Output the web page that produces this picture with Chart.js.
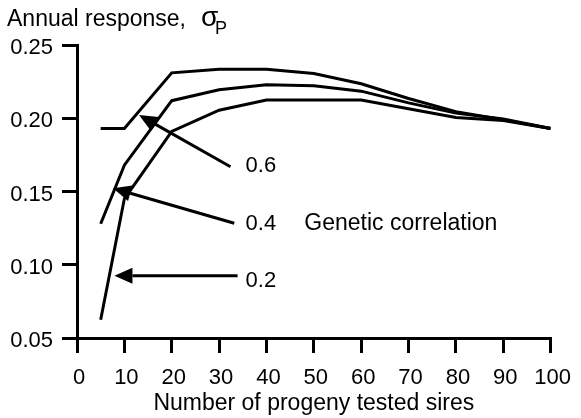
<!DOCTYPE html>
<html>
<head>
<meta charset="utf-8">
<script src="https://cdn.jsdelivr.net/npm/chart.js@4.4.0/dist/chart.umd.min.js"></script>
<style>
  html, body { margin: 0; padding: 0; background: #fff; }
</style>
</head>
<body>
<canvas id="chart" width="581" height="418"></canvas>
<script>
// number of progeny tested sires
const sires = [5, 10, 20, 30, 40, 50, 60, 70, 80, 90, 100];
// annual response (sigma P) for genetic correlation 0.6 / 0.4 / 0.2
const corr06 = [0.193, 0.193, 0.231, 0.2335, 0.2335, 0.2305, 0.2235, 0.2135, 0.2045, 0.1990, 0.193];
const corr04 = [0.128, 0.168, 0.212, 0.2195, 0.2228, 0.2222, 0.2185, 0.2105, 0.2035, 0.1995, 0.193];
const corr02 = [0.0625, 0.145, 0.191, 0.2055, 0.2125, 0.2125, 0.2125, 0.2065, 0.2005, 0.1985, 0.193];
const xTicks = [0, 10, 20, 30, 40, 50, 60, 70, 80, 90, 100];
const yTicks = [0.05, 0.10, 0.15, 0.20, 0.25];

// arrow annotations (data units): label, where the text sits, tail and tip of the arrow
const arrowLabels = ['0.6', '0.4', '0.2'];
const arrowText = [[35.6, 0.1672], [35.6, 0.1278], [35.6, 0.0890]];
const arrowTail = [[32.4, 0.1669], [33.2, 0.1283], [33.9, 0.0925]];
const arrowTip = [[13.1, 0.2022], [7.6, 0.1522], [7.9, 0.0925]];
const legendTitle = 'Genetic correlation';
const legendPos = [48.0, 0.1278];

const FONT = '"Liberation Sans", Arial, Helvetica, sans-serif';

const annotate = {
    id: 'annotate',
    afterDatasetsDraw(chart) {
        const { ctx, scales: { x, y } } = chart;
        ctx.save();
        ctx.fillStyle = '#000';
        ctx.strokeStyle = '#000';

        // arrows
        arrowLabels.forEach((lab, i) => {
            const x0 = x.getPixelForValue(arrowTail[i][0]);
            const y0 = y.getPixelForValue(arrowTail[i][1]);
            const x1 = x.getPixelForValue(arrowTip[i][0]);
            const y1 = y.getPixelForValue(arrowTip[i][1]);
            const ang = Math.atan2(y1 - y0, x1 - x0);
            const headLen = 18, headW = 8;
            const bx = x1 - headLen * Math.cos(ang);
            const by = y1 - headLen * Math.sin(ang);
            ctx.lineWidth = 3;
            ctx.lineCap = 'butt';
            ctx.beginPath();
            ctx.moveTo(x0, y0);
            ctx.lineTo(bx, by);
            ctx.stroke();
            ctx.beginPath();
            ctx.moveTo(x1, y1);
            ctx.lineTo(bx + headW * Math.sin(ang), by - headW * Math.cos(ang));
            ctx.lineTo(bx - headW * Math.sin(ang), by + headW * Math.cos(ang));
            ctx.closePath();
            ctx.fill();

            ctx.font = '22px ' + FONT;
            ctx.textAlign = 'left';
            ctx.textBaseline = 'middle';
            ctx.fillText(lab, x.getPixelForValue(arrowText[i][0]), y.getPixelForValue(arrowText[i][1]));
        });

        ctx.font = '23px ' + FONT;
        ctx.fillText(legendTitle, x.getPixelForValue(legendPos[0]), y.getPixelForValue(legendPos[1]));

        // axis title top-left
        ctx.textBaseline = 'alphabetic';
        ctx.fillText('Annual response,', 7, 26);
        ctx.font = '28px ' + FONT;
        ctx.fillText('\u03c3', 201, 26);
        ctx.font = '18px ' + FONT;
        ctx.fillText('P', 215, 34);
        ctx.restore();
    }
};

const lineStyle = {
    borderColor: '#000',
    borderWidth: 3,
    pointRadius: 0,
    tension: 0,
    fill: false
};

new Chart(document.getElementById('chart'), {
    type: 'line',
    data: {
        datasets: [
            { label: '0.6', data: sires.map((s, i) => ({ x: s, y: corr06[i] })), ...lineStyle },
            { label: '0.4', data: sires.map((s, i) => ({ x: s, y: corr04[i] })), ...lineStyle },
            { label: '0.2', data: sires.map((s, i) => ({ x: s, y: corr02[i] })), ...lineStyle }
        ]
    },
    options: {
        responsive: false,
        animation: false,
        layout: { padding: { top: 45, right: 23, bottom: 0, left: 0 } },
        plugins: { legend: { display: false }, tooltip: { enabled: false } },
        scales: {
            x: {
                type: 'linear',
                min: 0,
                max: 100,
                afterBuildTicks: s => { s.ticks = xTicks.map(v => ({ value: v })); },
                afterFit: s => { s.height = 80; },
                border: { display: true, color: '#000', width: 3 },
                grid: { drawOnChartArea: false, drawTicks: true, tickLength: 15, color: '#000', lineWidth: 3 },
                ticks: { color: '#000', font: { family: FONT, size: 22 }, padding: 12, maxRotation: 0, labelOffset: 2 },
                title: {
                    display: true,
                    text: 'Number of progeny tested sires',
                    color: '#000',
                    font: { family: FONT, size: 23 },
                    padding: { top: 0, bottom: 1 }
                }
            },
            y: {
                min: 0.05,
                max: 0.25,
                afterBuildTicks: s => { s.ticks = yTicks.map(v => ({ value: v })); },
                afterFit: s => { s.width = 77; },
                border: { display: true, color: '#000', width: 3 },
                grid: { drawOnChartArea: false, drawTicks: true, tickLength: 15, color: '#000', lineWidth: 3 },
                ticks: {
                    color: '#000',
                    font: { family: FONT, size: 22 },
                    padding: 9,
                    labelOffset: 3,
                    callback: v => v.toFixed(2)
                }
            }
        }
    },
    plugins: [annotate]
});
</script>
</body>
</html>
